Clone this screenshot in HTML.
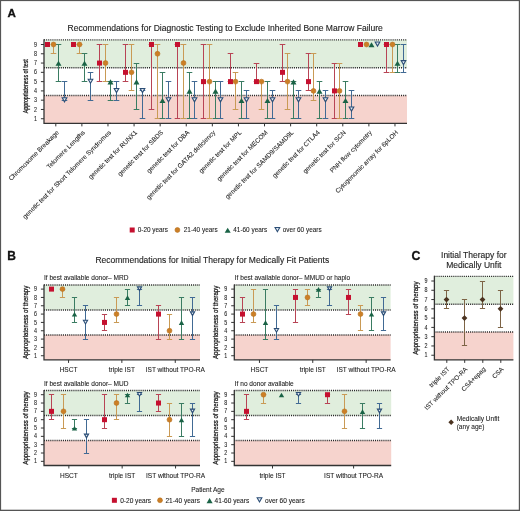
<!DOCTYPE html>
<html><head><meta charset="utf-8"><style>
html,body{margin:0;padding:0;background:#fff;}
body{width:520px;height:511px;overflow:hidden;}
svg{display:block;will-change:transform;opacity:0.999;}
</style></head><body>
<svg width="520" height="511" viewBox="0 0 520 511" font-family='"Liberation Sans", sans-serif'>
<rect x="0" y="0" width="520" height="511" fill="#fff"/>
<rect x="44" y="39.86" width="363" height="27.84" fill="#e0eedd"/>
<rect x="44" y="95.54" width="363" height="27.84" fill="#f6d3cd"/>
<line x1="44" y1="39.86" x2="407" y2="39.86" stroke="#262626" stroke-width="1.45" stroke-dasharray="1.05 1.05"/>
<line x1="44" y1="67.70" x2="407" y2="67.70" stroke="#262626" stroke-width="1.45" stroke-dasharray="1.05 1.05"/>
<line x1="44" y1="95.54" x2="407" y2="95.54" stroke="#262626" stroke-width="1.45" stroke-dasharray="1.05 1.05"/>
<g stroke="#c99a55" stroke-width="1" fill="none"><line x1="53.50" y1="44.50" x2="53.50" y2="53.50"/><line x1="50.70" y1="44.50" x2="56.30" y2="44.50"/><line x1="50.70" y1="53.50" x2="56.30" y2="53.50"/></g>
<g stroke="#3a7c62" stroke-width="1" fill="none"><line x1="58.50" y1="44.50" x2="58.50" y2="81.50"/><line x1="55.70" y1="44.50" x2="61.30" y2="44.50"/><line x1="55.70" y1="81.50" x2="61.30" y2="81.50"/></g>
<g stroke="#416a94" stroke-width="1" fill="none"><line x1="64.50" y1="81.50" x2="64.50" y2="100.50"/><line x1="61.70" y1="81.50" x2="67.30" y2="81.50"/><line x1="61.70" y1="100.50" x2="67.30" y2="100.50"/></g>
<g stroke="#c99a55" stroke-width="1" fill="none"><line x1="79.50" y1="44.50" x2="79.50" y2="53.50"/><line x1="76.70" y1="44.50" x2="82.30" y2="44.50"/><line x1="76.70" y1="53.50" x2="82.30" y2="53.50"/></g>
<g stroke="#3a7c62" stroke-width="1" fill="none"><line x1="84.50" y1="53.50" x2="84.50" y2="81.50"/><line x1="81.70" y1="53.50" x2="87.30" y2="53.50"/><line x1="81.70" y1="81.50" x2="87.30" y2="81.50"/></g>
<g stroke="#416a94" stroke-width="1" fill="none"><line x1="90.50" y1="72.50" x2="90.50" y2="100.50"/><line x1="87.70" y1="72.50" x2="93.30" y2="72.50"/><line x1="87.70" y1="100.50" x2="93.30" y2="100.50"/></g>
<g stroke="#b84455" stroke-width="1" fill="none"><line x1="99.50" y1="44.50" x2="99.50" y2="81.50"/><line x1="96.70" y1="44.50" x2="102.30" y2="44.50"/><line x1="96.70" y1="81.50" x2="102.30" y2="81.50"/></g>
<g stroke="#c99a55" stroke-width="1" fill="none"><line x1="105.50" y1="44.50" x2="105.50" y2="81.50"/><line x1="102.70" y1="44.50" x2="108.30" y2="44.50"/><line x1="102.70" y1="81.50" x2="108.30" y2="81.50"/></g>
<g stroke="#3a7c62" stroke-width="1" fill="none"><line x1="110.50" y1="81.50" x2="110.50" y2="100.50"/><line x1="107.70" y1="81.50" x2="113.30" y2="81.50"/><line x1="107.70" y1="100.50" x2="113.30" y2="100.50"/></g>
<g stroke="#416a94" stroke-width="1" fill="none"><line x1="116.50" y1="81.50" x2="116.50" y2="100.50"/><line x1="113.70" y1="81.50" x2="119.30" y2="81.50"/><line x1="113.70" y1="100.50" x2="119.30" y2="100.50"/></g>
<g stroke="#b84455" stroke-width="1" fill="none"><line x1="125.50" y1="44.50" x2="125.50" y2="81.50"/><line x1="122.70" y1="44.50" x2="128.30" y2="44.50"/><line x1="122.70" y1="81.50" x2="128.30" y2="81.50"/></g>
<g stroke="#c99a55" stroke-width="1" fill="none"><line x1="131.50" y1="44.50" x2="131.50" y2="90.50"/><line x1="128.70" y1="44.50" x2="134.30" y2="44.50"/><line x1="128.70" y1="90.50" x2="134.30" y2="90.50"/></g>
<g stroke="#3a7c62" stroke-width="1" fill="none"><line x1="136.50" y1="63.50" x2="136.50" y2="109.50"/><line x1="133.70" y1="63.50" x2="139.30" y2="63.50"/><line x1="133.70" y1="109.50" x2="139.30" y2="109.50"/></g>
<g stroke="#416a94" stroke-width="1" fill="none"><line x1="142.50" y1="90.50" x2="142.50" y2="118.50"/><line x1="139.70" y1="90.50" x2="145.30" y2="90.50"/><line x1="139.70" y1="118.50" x2="145.30" y2="118.50"/></g>
<g stroke="#b84455" stroke-width="1" fill="none"><line x1="151.50" y1="44.50" x2="151.50" y2="109.50"/><line x1="148.70" y1="44.50" x2="154.30" y2="44.50"/><line x1="148.70" y1="109.50" x2="154.30" y2="109.50"/></g>
<g stroke="#c99a55" stroke-width="1" fill="none"><line x1="157.50" y1="44.50" x2="157.50" y2="118.50"/><line x1="154.70" y1="44.50" x2="160.30" y2="44.50"/><line x1="154.70" y1="118.50" x2="160.30" y2="118.50"/></g>
<g stroke="#3a7c62" stroke-width="1" fill="none"><line x1="162.50" y1="72.50" x2="162.50" y2="118.50"/><line x1="159.70" y1="72.50" x2="165.30" y2="72.50"/><line x1="159.70" y1="118.50" x2="165.30" y2="118.50"/></g>
<g stroke="#416a94" stroke-width="1" fill="none"><line x1="168.50" y1="81.50" x2="168.50" y2="118.50"/><line x1="165.70" y1="81.50" x2="171.30" y2="81.50"/><line x1="165.70" y1="118.50" x2="171.30" y2="118.50"/></g>
<g stroke="#b84455" stroke-width="1" fill="none"><line x1="177.50" y1="44.50" x2="177.50" y2="118.50"/><line x1="174.70" y1="44.50" x2="180.30" y2="44.50"/><line x1="174.70" y1="118.50" x2="180.30" y2="118.50"/></g>
<g stroke="#c99a55" stroke-width="1" fill="none"><line x1="183.50" y1="44.50" x2="183.50" y2="118.50"/><line x1="180.70" y1="44.50" x2="186.30" y2="44.50"/><line x1="180.70" y1="118.50" x2="186.30" y2="118.50"/></g>
<g stroke="#3a7c62" stroke-width="1" fill="none"><line x1="189.50" y1="72.50" x2="189.50" y2="118.50"/><line x1="186.70" y1="72.50" x2="192.30" y2="72.50"/><line x1="186.70" y1="118.50" x2="192.30" y2="118.50"/></g>
<g stroke="#416a94" stroke-width="1" fill="none"><line x1="194.50" y1="81.50" x2="194.50" y2="118.50"/><line x1="191.70" y1="81.50" x2="197.30" y2="81.50"/><line x1="191.70" y1="118.50" x2="197.30" y2="118.50"/></g>
<g stroke="#b84455" stroke-width="1" fill="none"><line x1="203.50" y1="44.50" x2="203.50" y2="118.50"/><line x1="200.70" y1="44.50" x2="206.30" y2="44.50"/><line x1="200.70" y1="118.50" x2="206.30" y2="118.50"/></g>
<g stroke="#c99a55" stroke-width="1" fill="none"><line x1="209.50" y1="44.50" x2="209.50" y2="118.50"/><line x1="206.70" y1="44.50" x2="212.30" y2="44.50"/><line x1="206.70" y1="118.50" x2="212.30" y2="118.50"/></g>
<g stroke="#3a7c62" stroke-width="1" fill="none"><line x1="215.50" y1="81.50" x2="215.50" y2="118.50"/><line x1="212.70" y1="81.50" x2="218.30" y2="81.50"/><line x1="212.70" y1="118.50" x2="218.30" y2="118.50"/></g>
<g stroke="#416a94" stroke-width="1" fill="none"><line x1="220.50" y1="81.50" x2="220.50" y2="118.50"/><line x1="217.70" y1="81.50" x2="223.30" y2="81.50"/><line x1="217.70" y1="118.50" x2="223.30" y2="118.50"/></g>
<g stroke="#b84455" stroke-width="1" fill="none"><line x1="230.50" y1="53.50" x2="230.50" y2="81.50"/><line x1="227.70" y1="53.50" x2="233.30" y2="53.50"/><line x1="227.70" y1="81.50" x2="233.30" y2="81.50"/></g>
<g stroke="#c99a55" stroke-width="1" fill="none"><line x1="235.50" y1="72.50" x2="235.50" y2="109.50"/><line x1="232.70" y1="72.50" x2="238.30" y2="72.50"/><line x1="232.70" y1="109.50" x2="238.30" y2="109.50"/></g>
<g stroke="#3a7c62" stroke-width="1" fill="none"><line x1="241.50" y1="81.50" x2="241.50" y2="118.50"/><line x1="238.70" y1="81.50" x2="244.30" y2="81.50"/><line x1="238.70" y1="118.50" x2="244.30" y2="118.50"/></g>
<g stroke="#416a94" stroke-width="1" fill="none"><line x1="246.50" y1="90.50" x2="246.50" y2="118.50"/><line x1="243.70" y1="90.50" x2="249.30" y2="90.50"/><line x1="243.70" y1="118.50" x2="249.30" y2="118.50"/></g>
<g stroke="#b84455" stroke-width="1" fill="none"><line x1="256.50" y1="63.50" x2="256.50" y2="81.50"/><line x1="253.70" y1="63.50" x2="259.30" y2="63.50"/><line x1="253.70" y1="81.50" x2="259.30" y2="81.50"/></g>
<g stroke="#c99a55" stroke-width="1" fill="none"><line x1="261.50" y1="81.50" x2="261.50" y2="109.50"/><line x1="258.70" y1="81.50" x2="264.30" y2="81.50"/><line x1="258.70" y1="109.50" x2="264.30" y2="109.50"/></g>
<g stroke="#3a7c62" stroke-width="1" fill="none"><line x1="267.50" y1="81.50" x2="267.50" y2="118.50"/><line x1="264.70" y1="81.50" x2="270.30" y2="81.50"/><line x1="264.70" y1="118.50" x2="270.30" y2="118.50"/></g>
<g stroke="#416a94" stroke-width="1" fill="none"><line x1="272.50" y1="90.50" x2="272.50" y2="118.50"/><line x1="269.70" y1="90.50" x2="275.30" y2="90.50"/><line x1="269.70" y1="118.50" x2="275.30" y2="118.50"/></g>
<g stroke="#b84455" stroke-width="1" fill="none"><line x1="282.50" y1="44.50" x2="282.50" y2="81.50"/><line x1="279.70" y1="44.50" x2="285.30" y2="44.50"/><line x1="279.70" y1="81.50" x2="285.30" y2="81.50"/></g>
<g stroke="#c99a55" stroke-width="1" fill="none"><line x1="287.50" y1="53.50" x2="287.50" y2="109.50"/><line x1="284.70" y1="53.50" x2="290.30" y2="53.50"/><line x1="284.70" y1="109.50" x2="290.30" y2="109.50"/></g>
<g stroke="#3a7c62" stroke-width="1" fill="none"><line x1="293.50" y1="81.50" x2="293.50" y2="118.50"/><line x1="290.70" y1="81.50" x2="296.30" y2="81.50"/><line x1="290.70" y1="118.50" x2="296.30" y2="118.50"/></g>
<g stroke="#416a94" stroke-width="1" fill="none"><line x1="298.50" y1="90.50" x2="298.50" y2="118.50"/><line x1="295.70" y1="90.50" x2="301.30" y2="90.50"/><line x1="295.70" y1="118.50" x2="301.30" y2="118.50"/></g>
<g stroke="#b84455" stroke-width="1" fill="none"><line x1="308.50" y1="53.50" x2="308.50" y2="90.50"/><line x1="305.70" y1="53.50" x2="311.30" y2="53.50"/><line x1="305.70" y1="90.50" x2="311.30" y2="90.50"/></g>
<g stroke="#c99a55" stroke-width="1" fill="none"><line x1="313.50" y1="53.50" x2="313.50" y2="100.50"/><line x1="310.70" y1="53.50" x2="316.30" y2="53.50"/><line x1="310.70" y1="100.50" x2="316.30" y2="100.50"/></g>
<g stroke="#3a7c62" stroke-width="1" fill="none"><line x1="319.50" y1="81.50" x2="319.50" y2="118.50"/><line x1="316.70" y1="81.50" x2="322.30" y2="81.50"/><line x1="316.70" y1="118.50" x2="322.30" y2="118.50"/></g>
<g stroke="#416a94" stroke-width="1" fill="none"><line x1="325.50" y1="90.50" x2="325.50" y2="118.50"/><line x1="322.70" y1="90.50" x2="328.30" y2="90.50"/><line x1="322.70" y1="118.50" x2="328.30" y2="118.50"/></g>
<g stroke="#b84455" stroke-width="1" fill="none"><line x1="334.50" y1="63.50" x2="334.50" y2="118.50"/><line x1="331.70" y1="63.50" x2="337.30" y2="63.50"/><line x1="331.70" y1="118.50" x2="337.30" y2="118.50"/></g>
<g stroke="#c99a55" stroke-width="1" fill="none"><line x1="339.50" y1="63.50" x2="339.50" y2="118.50"/><line x1="336.70" y1="63.50" x2="342.30" y2="63.50"/><line x1="336.70" y1="118.50" x2="342.30" y2="118.50"/></g>
<g stroke="#3a7c62" stroke-width="1" fill="none"><line x1="345.50" y1="81.50" x2="345.50" y2="118.50"/><line x1="342.70" y1="81.50" x2="348.30" y2="81.50"/><line x1="342.70" y1="118.50" x2="348.30" y2="118.50"/></g>
<g stroke="#416a94" stroke-width="1" fill="none"><line x1="351.50" y1="90.50" x2="351.50" y2="118.50"/><line x1="348.70" y1="90.50" x2="354.30" y2="90.50"/><line x1="348.70" y1="118.50" x2="354.30" y2="118.50"/></g>
<g stroke="#b84455" stroke-width="1" fill="none"><line x1="386.50" y1="44.50" x2="386.50" y2="72.50"/><line x1="383.70" y1="44.50" x2="389.30" y2="44.50"/><line x1="383.70" y1="72.50" x2="389.30" y2="72.50"/></g>
<g stroke="#c99a55" stroke-width="1" fill="none"><line x1="392.50" y1="44.50" x2="392.50" y2="72.50"/><line x1="389.70" y1="44.50" x2="395.30" y2="44.50"/><line x1="389.70" y1="72.50" x2="395.30" y2="72.50"/></g>
<g stroke="#3a7c62" stroke-width="1" fill="none"><line x1="397.50" y1="44.50" x2="397.50" y2="72.50"/><line x1="394.70" y1="44.50" x2="400.30" y2="44.50"/><line x1="394.70" y1="72.50" x2="400.30" y2="72.50"/></g>
<g stroke="#416a94" stroke-width="1" fill="none"><line x1="403.50" y1="44.50" x2="403.50" y2="72.50"/><line x1="400.70" y1="44.50" x2="406.30" y2="44.50"/><line x1="400.70" y1="72.50" x2="406.30" y2="72.50"/></g>
<rect x="45.00" y="42.00" width="5.00" height="5.00" fill="#c5102f"/>
<circle cx="53.50" cy="44.50" r="2.45" fill="#cc7f26" stroke="#b56e1c" stroke-width="0.6"/>
<path d="M55.53,65.84 L61.47,65.84 L58.50,60.78Z" fill="#1a6346"/>
<path d="M62.19,97.74 L66.81,97.74 L64.50,101.81Z" fill="#e2eaf3" stroke="#2b4d75" stroke-width="1.1" stroke-linejoin="miter"/>
<rect x="71.00" y="42.00" width="5.00" height="5.00" fill="#c5102f"/>
<circle cx="79.50" cy="44.50" r="2.45" fill="#cc7f26" stroke="#b56e1c" stroke-width="0.6"/>
<path d="M81.53,65.84 L87.47,65.84 L84.50,60.78Z" fill="#1a6346"/>
<path d="M88.19,79.18 L92.81,79.18 L90.50,83.25Z" fill="#e2eaf3" stroke="#2b4d75" stroke-width="1.1" stroke-linejoin="miter"/>
<rect x="97.00" y="60.56" width="5.00" height="5.00" fill="#c5102f"/>
<circle cx="105.50" cy="63.06" r="2.45" fill="#cc7f26" stroke="#b56e1c" stroke-width="0.6"/>
<path d="M107.53,84.40 L113.47,84.40 L110.50,79.34Z" fill="#1a6346"/>
<path d="M114.19,88.46 L118.81,88.46 L116.50,92.53Z" fill="#e2eaf3" stroke="#2b4d75" stroke-width="1.1" stroke-linejoin="miter"/>
<rect x="123.00" y="69.84" width="5.00" height="5.00" fill="#c5102f"/>
<circle cx="131.50" cy="72.34" r="2.45" fill="#cc7f26" stroke="#b56e1c" stroke-width="0.6"/>
<path d="M133.53,84.40 L139.47,84.40 L136.50,79.34Z" fill="#1a6346"/>
<path d="M140.19,88.46 L144.81,88.46 L142.50,92.53Z" fill="#e2eaf3" stroke="#2b4d75" stroke-width="1.1" stroke-linejoin="miter"/>
<rect x="149.00" y="42.00" width="5.00" height="5.00" fill="#c5102f"/>
<circle cx="157.50" cy="53.78" r="2.45" fill="#cc7f26" stroke="#b56e1c" stroke-width="0.6"/>
<path d="M159.53,102.96 L165.47,102.96 L162.50,97.90Z" fill="#1a6346"/>
<path d="M166.19,97.74 L170.81,97.74 L168.50,101.81Z" fill="#e2eaf3" stroke="#2b4d75" stroke-width="1.1" stroke-linejoin="miter"/>
<rect x="175.00" y="42.00" width="5.00" height="5.00" fill="#c5102f"/>
<circle cx="183.50" cy="63.06" r="2.45" fill="#cc7f26" stroke="#b56e1c" stroke-width="0.6"/>
<path d="M186.53,93.68 L192.47,93.68 L189.50,88.62Z" fill="#1a6346"/>
<path d="M192.19,97.74 L196.81,97.74 L194.50,101.81Z" fill="#e2eaf3" stroke="#2b4d75" stroke-width="1.1" stroke-linejoin="miter"/>
<rect x="201.00" y="79.12" width="5.00" height="5.00" fill="#c5102f"/>
<circle cx="209.50" cy="81.62" r="2.45" fill="#cc7f26" stroke="#b56e1c" stroke-width="0.6"/>
<path d="M212.53,93.68 L218.47,93.68 L215.50,88.62Z" fill="#1a6346"/>
<path d="M218.19,97.74 L222.81,97.74 L220.50,101.81Z" fill="#e2eaf3" stroke="#2b4d75" stroke-width="1.1" stroke-linejoin="miter"/>
<rect x="228.00" y="79.12" width="5.00" height="5.00" fill="#c5102f"/>
<circle cx="235.50" cy="81.62" r="2.45" fill="#cc7f26" stroke="#b56e1c" stroke-width="0.6"/>
<path d="M238.53,102.96 L244.47,102.96 L241.50,97.90Z" fill="#1a6346"/>
<path d="M244.19,97.74 L248.81,97.74 L246.50,101.81Z" fill="#e2eaf3" stroke="#2b4d75" stroke-width="1.1" stroke-linejoin="miter"/>
<rect x="254.00" y="79.12" width="5.00" height="5.00" fill="#c5102f"/>
<circle cx="261.50" cy="81.62" r="2.45" fill="#cc7f26" stroke="#b56e1c" stroke-width="0.6"/>
<path d="M264.53,102.96 L270.47,102.96 L267.50,97.90Z" fill="#1a6346"/>
<path d="M270.19,97.74 L274.81,97.74 L272.50,101.81Z" fill="#e2eaf3" stroke="#2b4d75" stroke-width="1.1" stroke-linejoin="miter"/>
<rect x="280.00" y="69.84" width="5.00" height="5.00" fill="#c5102f"/>
<circle cx="287.50" cy="81.62" r="2.45" fill="#cc7f26" stroke="#b56e1c" stroke-width="0.6"/>
<path d="M290.53,84.40 L296.47,84.40 L293.50,79.34Z" fill="#1a6346"/>
<path d="M296.19,97.74 L300.81,97.74 L298.50,101.81Z" fill="#e2eaf3" stroke="#2b4d75" stroke-width="1.1" stroke-linejoin="miter"/>
<rect x="306.00" y="79.12" width="5.00" height="5.00" fill="#c5102f"/>
<circle cx="313.50" cy="90.90" r="2.45" fill="#cc7f26" stroke="#b56e1c" stroke-width="0.6"/>
<path d="M316.53,93.68 L322.47,93.68 L319.50,88.62Z" fill="#1a6346"/>
<path d="M323.19,97.74 L327.81,97.74 L325.50,101.81Z" fill="#e2eaf3" stroke="#2b4d75" stroke-width="1.1" stroke-linejoin="miter"/>
<rect x="332.00" y="88.40" width="5.00" height="5.00" fill="#c5102f"/>
<circle cx="339.50" cy="90.90" r="2.45" fill="#cc7f26" stroke="#b56e1c" stroke-width="0.6"/>
<path d="M342.53,102.96 L348.47,102.96 L345.50,97.90Z" fill="#1a6346"/>
<path d="M349.19,107.02 L353.81,107.02 L351.50,111.09Z" fill="#e2eaf3" stroke="#2b4d75" stroke-width="1.1" stroke-linejoin="miter"/>
<rect x="358.00" y="42.00" width="5.00" height="5.00" fill="#c5102f"/>
<circle cx="366.50" cy="44.50" r="2.45" fill="#cc7f26" stroke="#b56e1c" stroke-width="0.6"/>
<path d="M368.53,47.28 L374.47,47.28 L371.50,42.22Z" fill="#1a6346"/>
<path d="M375.19,42.06 L379.81,42.06 L377.50,46.13Z" fill="#e2eaf3" stroke="#2b4d75" stroke-width="1.1" stroke-linejoin="miter"/>
<rect x="384.00" y="42.00" width="5.00" height="5.00" fill="#c5102f"/>
<circle cx="392.50" cy="44.50" r="2.45" fill="#cc7f26" stroke="#b56e1c" stroke-width="0.6"/>
<path d="M394.53,65.84 L400.47,65.84 L397.50,60.78Z" fill="#1a6346"/>
<path d="M401.19,60.62 L405.81,60.62 L403.50,64.69Z" fill="#e2eaf3" stroke="#2b4d75" stroke-width="1.1" stroke-linejoin="miter"/>
<path d="M44,39.36 L44,123.38 L407,123.38" stroke="#333333" stroke-width="1.3" fill="none"/>
<line x1="40.9" y1="118.74" x2="44" y2="118.74" stroke="#333333" stroke-width="1"/>
<text x="37.00" y="120.84" font-size="6.6" text-anchor="end" font-weight="normal" fill="#222222" textLength="3.0" lengthAdjust="spacingAndGlyphs" stroke="#222222" stroke-width="0.08">1</text>
<line x1="40.9" y1="109.46" x2="44" y2="109.46" stroke="#333333" stroke-width="1"/>
<text x="37.00" y="111.56" font-size="6.6" text-anchor="end" font-weight="normal" fill="#222222" textLength="3.0" lengthAdjust="spacingAndGlyphs" stroke="#222222" stroke-width="0.08">2</text>
<line x1="40.9" y1="100.18" x2="44" y2="100.18" stroke="#333333" stroke-width="1"/>
<text x="37.00" y="102.28" font-size="6.6" text-anchor="end" font-weight="normal" fill="#222222" textLength="3.0" lengthAdjust="spacingAndGlyphs" stroke="#222222" stroke-width="0.08">3</text>
<line x1="40.9" y1="90.90" x2="44" y2="90.90" stroke="#333333" stroke-width="1"/>
<text x="37.00" y="93.00" font-size="6.6" text-anchor="end" font-weight="normal" fill="#222222" textLength="3.0" lengthAdjust="spacingAndGlyphs" stroke="#222222" stroke-width="0.08">4</text>
<line x1="40.9" y1="81.62" x2="44" y2="81.62" stroke="#333333" stroke-width="1"/>
<text x="37.00" y="83.72" font-size="6.6" text-anchor="end" font-weight="normal" fill="#222222" textLength="3.0" lengthAdjust="spacingAndGlyphs" stroke="#222222" stroke-width="0.08">5</text>
<line x1="40.9" y1="72.34" x2="44" y2="72.34" stroke="#333333" stroke-width="1"/>
<text x="37.00" y="74.44" font-size="6.6" text-anchor="end" font-weight="normal" fill="#222222" textLength="3.0" lengthAdjust="spacingAndGlyphs" stroke="#222222" stroke-width="0.08">6</text>
<line x1="40.9" y1="63.06" x2="44" y2="63.06" stroke="#333333" stroke-width="1"/>
<text x="37.00" y="65.16" font-size="6.6" text-anchor="end" font-weight="normal" fill="#222222" textLength="3.0" lengthAdjust="spacingAndGlyphs" stroke="#222222" stroke-width="0.08">7</text>
<line x1="40.9" y1="53.78" x2="44" y2="53.78" stroke="#333333" stroke-width="1"/>
<text x="37.00" y="55.88" font-size="6.6" text-anchor="end" font-weight="normal" fill="#222222" textLength="3.0" lengthAdjust="spacingAndGlyphs" stroke="#222222" stroke-width="0.08">8</text>
<line x1="40.9" y1="44.50" x2="44" y2="44.50" stroke="#333333" stroke-width="1"/>
<text x="37.00" y="46.60" font-size="6.6" text-anchor="end" font-weight="normal" fill="#222222" textLength="3.0" lengthAdjust="spacingAndGlyphs" stroke="#222222" stroke-width="0.08">9</text>
<line x1="55.80" y1="123.38" x2="55.80" y2="126.38" stroke="#333333" stroke-width="1"/>
<line x1="81.89" y1="123.38" x2="81.89" y2="126.38" stroke="#333333" stroke-width="1"/>
<line x1="107.98" y1="123.38" x2="107.98" y2="126.38" stroke="#333333" stroke-width="1"/>
<line x1="134.07" y1="123.38" x2="134.07" y2="126.38" stroke="#333333" stroke-width="1"/>
<line x1="160.16" y1="123.38" x2="160.16" y2="126.38" stroke="#333333" stroke-width="1"/>
<line x1="186.25" y1="123.38" x2="186.25" y2="126.38" stroke="#333333" stroke-width="1"/>
<line x1="212.34" y1="123.38" x2="212.34" y2="126.38" stroke="#333333" stroke-width="1"/>
<line x1="238.43" y1="123.38" x2="238.43" y2="126.38" stroke="#333333" stroke-width="1"/>
<line x1="264.52" y1="123.38" x2="264.52" y2="126.38" stroke="#333333" stroke-width="1"/>
<line x1="290.61" y1="123.38" x2="290.61" y2="126.38" stroke="#333333" stroke-width="1"/>
<line x1="316.70" y1="123.38" x2="316.70" y2="126.38" stroke="#333333" stroke-width="1"/>
<line x1="342.79" y1="123.38" x2="342.79" y2="126.38" stroke="#333333" stroke-width="1"/>
<line x1="368.88" y1="123.38" x2="368.88" y2="126.38" stroke="#333333" stroke-width="1"/>
<line x1="394.97" y1="123.38" x2="394.97" y2="126.38" stroke="#333333" stroke-width="1"/>
<text x="27.60" y="86.20" font-size="7.4" text-anchor="middle" font-weight="normal" fill="#222222" textLength="54" lengthAdjust="spacingAndGlyphs" transform="rotate(-90 27.60 86.20)" stroke="#222" stroke-width="0.28">Appropriateness of test</text>
<text x="59.30" y="133.00" font-size="6.45" text-anchor="end" font-weight="normal" fill="#222222" transform="rotate(-45 59.30 133.00)" stroke="#222222" stroke-width="0.08">Chromosome Breakage</text>
<text x="85.39" y="133.00" font-size="6.45" text-anchor="end" font-weight="normal" fill="#222222" transform="rotate(-45 85.39 133.00)" stroke="#222222" stroke-width="0.08">Telomere Lengths</text>
<text x="111.48" y="133.00" font-size="6.45" text-anchor="end" font-weight="normal" fill="#222222" transform="rotate(-45 111.48 133.00)" stroke="#222222" stroke-width="0.08">genetic test for Short Telomere Syndromes</text>
<text x="137.57" y="133.00" font-size="6.45" text-anchor="end" font-weight="normal" fill="#222222" transform="rotate(-45 137.57 133.00)" stroke="#222222" stroke-width="0.08">genetic test for RUNX1</text>
<text x="163.66" y="133.00" font-size="6.45" text-anchor="end" font-weight="normal" fill="#222222" transform="rotate(-45 163.66 133.00)" stroke="#222222" stroke-width="0.08">genetic test for SBDS</text>
<text x="189.75" y="133.00" font-size="6.45" text-anchor="end" font-weight="normal" fill="#222222" transform="rotate(-45 189.75 133.00)" stroke="#222222" stroke-width="0.08">genetic test for DBA</text>
<text x="215.84" y="133.00" font-size="6.45" text-anchor="end" font-weight="normal" fill="#222222" transform="rotate(-45 215.84 133.00)" stroke="#222222" stroke-width="0.08">genetic test for GATA2 deficiency</text>
<text x="241.93" y="133.00" font-size="6.45" text-anchor="end" font-weight="normal" fill="#222222" transform="rotate(-45 241.93 133.00)" stroke="#222222" stroke-width="0.08">genetic test for MPL</text>
<text x="268.02" y="133.00" font-size="6.45" text-anchor="end" font-weight="normal" fill="#222222" transform="rotate(-45 268.02 133.00)" stroke="#222222" stroke-width="0.08">genetic test for MECOM</text>
<text x="294.11" y="133.00" font-size="6.45" text-anchor="end" font-weight="normal" fill="#222222" transform="rotate(-45 294.11 133.00)" stroke="#222222" stroke-width="0.08">genetic test for SAMD9/SAMD9L</text>
<text x="320.20" y="133.00" font-size="6.45" text-anchor="end" font-weight="normal" fill="#222222" transform="rotate(-45 320.20 133.00)" stroke="#222222" stroke-width="0.08">genetic test for CTLA4</text>
<text x="346.29" y="133.00" font-size="6.45" text-anchor="end" font-weight="normal" fill="#222222" transform="rotate(-45 346.29 133.00)" stroke="#222222" stroke-width="0.08">genetic test for SCN</text>
<text x="372.38" y="133.00" font-size="6.45" text-anchor="end" font-weight="normal" fill="#222222" transform="rotate(-45 372.38 133.00)" stroke="#222222" stroke-width="0.08">PNH flow cytometry</text>
<text x="398.47" y="133.00" font-size="6.45" text-anchor="end" font-weight="normal" fill="#222222" transform="rotate(-45 398.47 133.00)" stroke="#222222" stroke-width="0.08">Cytogenomic array for 6pLOH</text>
<text x="225.20" y="31.30" font-size="8.57" text-anchor="middle" font-weight="normal" fill="#222222" stroke="#222222" stroke-width="0.12">Recommendations for Diagnostic Testing to Exclude Inherited Bone Marrow Failure</text>
<text x="7.40" y="17.30" font-size="11.6" text-anchor="start" font-weight="bold" fill="#111" stroke="#111" stroke-width="0.3">A</text>
<rect x="129.70" y="227.50" width="5.00" height="5.00" fill="#c5102f"/>
<text x="137.70" y="232.30" font-size="6.42" text-anchor="start" font-weight="normal" fill="#222222" stroke="#222222" stroke-width="0.08">0-20 years</text>
<circle cx="177.40" cy="230.00" r="2.45" fill="#cc7f26" stroke="#b56e1c" stroke-width="0.6"/>
<text x="183.80" y="232.30" font-size="6.42" text-anchor="start" font-weight="normal" fill="#222222" stroke="#222222" stroke-width="0.08">21-40 years</text>
<path d="M224.68,232.83 L230.72,232.83 L227.70,227.68Z" fill="#1a6346"/>
<text x="233.30" y="232.30" font-size="6.42" text-anchor="start" font-weight="normal" fill="#222222" stroke="#222222" stroke-width="0.08">41-60 years</text>
<path d="M275.05,227.51 L279.75,227.51 L277.40,231.66Z" fill="#e2eaf3" stroke="#2b4d75" stroke-width="1.1" stroke-linejoin="miter"/>
<text x="282.80" y="232.30" font-size="6.42" text-anchor="start" font-weight="normal" fill="#222222" stroke="#222222" stroke-width="0.08">over 60 years</text>
<text x="7.30" y="259.80" font-size="12" text-anchor="start" font-weight="bold" fill="#111" stroke="#111" stroke-width="0.3">B</text>
<text x="212.30" y="262.70" font-size="8.5" text-anchor="middle" font-weight="normal" fill="#222222" stroke="#222222" stroke-width="0.12">Recommendations for Initial Therapy for Medically Fit Patients</text>
<rect x="44" y="284.94" width="156" height="24.99" fill="#e0eedd"/>
<rect x="44" y="334.92" width="156" height="24.99" fill="#f6d3cd"/>
<line x1="44" y1="284.94" x2="200" y2="284.94" stroke="#262626" stroke-width="1.45" stroke-dasharray="1.05 1.05"/>
<line x1="44" y1="309.93" x2="200" y2="309.93" stroke="#262626" stroke-width="1.45" stroke-dasharray="1.05 1.05"/>
<line x1="44" y1="334.92" x2="200" y2="334.92" stroke="#262626" stroke-width="1.45" stroke-dasharray="1.05 1.05"/>
<g stroke="#c99a55" stroke-width="1" fill="none"><line x1="62.50" y1="289.50" x2="62.50" y2="297.50"/><line x1="59.90" y1="289.50" x2="65.10" y2="289.50"/><line x1="59.90" y1="297.50" x2="65.10" y2="297.50"/></g>
<g stroke="#3a7c62" stroke-width="1" fill="none"><line x1="74.50" y1="297.50" x2="74.50" y2="322.50"/><line x1="71.90" y1="297.50" x2="77.10" y2="297.50"/><line x1="71.90" y1="322.50" x2="77.10" y2="322.50"/></g>
<g stroke="#416a94" stroke-width="1" fill="none"><line x1="85.50" y1="305.50" x2="85.50" y2="339.50"/><line x1="82.90" y1="305.50" x2="88.10" y2="305.50"/><line x1="82.90" y1="339.50" x2="88.10" y2="339.50"/></g>
<g stroke="#b84455" stroke-width="1" fill="none"><line x1="104.50" y1="314.50" x2="104.50" y2="330.50"/><line x1="101.90" y1="314.50" x2="107.10" y2="314.50"/><line x1="101.90" y1="330.50" x2="107.10" y2="330.50"/></g>
<g stroke="#c99a55" stroke-width="1" fill="none"><line x1="116.50" y1="297.50" x2="116.50" y2="322.50"/><line x1="113.90" y1="297.50" x2="119.10" y2="297.50"/><line x1="113.90" y1="322.50" x2="119.10" y2="322.50"/></g>
<g stroke="#3a7c62" stroke-width="1" fill="none"><line x1="127.50" y1="289.50" x2="127.50" y2="305.50"/><line x1="124.90" y1="289.50" x2="130.10" y2="289.50"/><line x1="124.90" y1="305.50" x2="130.10" y2="305.50"/></g>
<g stroke="#416a94" stroke-width="1" fill="none"><line x1="139.50" y1="289.50" x2="139.50" y2="305.50"/><line x1="136.90" y1="289.50" x2="142.10" y2="289.50"/><line x1="136.90" y1="305.50" x2="142.10" y2="305.50"/></g>
<g stroke="#b84455" stroke-width="1" fill="none"><line x1="158.50" y1="305.50" x2="158.50" y2="339.50"/><line x1="155.90" y1="305.50" x2="161.10" y2="305.50"/><line x1="155.90" y1="339.50" x2="161.10" y2="339.50"/></g>
<g stroke="#c99a55" stroke-width="1" fill="none"><line x1="169.50" y1="314.50" x2="169.50" y2="339.50"/><line x1="166.90" y1="314.50" x2="172.10" y2="314.50"/><line x1="166.90" y1="339.50" x2="172.10" y2="339.50"/></g>
<g stroke="#3a7c62" stroke-width="1" fill="none"><line x1="181.50" y1="297.50" x2="181.50" y2="339.50"/><line x1="178.90" y1="297.50" x2="184.10" y2="297.50"/><line x1="178.90" y1="339.50" x2="184.10" y2="339.50"/></g>
<g stroke="#416a94" stroke-width="1" fill="none"><line x1="192.50" y1="297.50" x2="192.50" y2="339.50"/><line x1="189.90" y1="297.50" x2="195.10" y2="297.50"/><line x1="189.90" y1="339.50" x2="195.10" y2="339.50"/></g>
<rect x="49.00" y="286.60" width="5.00" height="5.00" fill="#c5102f"/>
<circle cx="62.50" cy="289.10" r="2.45" fill="#cc7f26" stroke="#b56e1c" stroke-width="0.6"/>
<path d="M71.80,316.62 L77.20,316.62 L74.50,312.02Z" fill="#1a6346"/>
<path d="M83.40,320.20 L87.60,320.20 L85.50,323.90Z" fill="#e2eaf3" stroke="#2b4d75" stroke-width="1.1" stroke-linejoin="miter"/>
<rect x="102.00" y="319.92" width="5.00" height="5.00" fill="#c5102f"/>
<circle cx="116.50" cy="314.09" r="2.45" fill="#cc7f26" stroke="#b56e1c" stroke-width="0.6"/>
<path d="M124.80,299.96 L130.20,299.96 L127.50,295.36Z" fill="#1a6346"/>
<path d="M137.40,286.88 L141.60,286.88 L139.50,290.58Z" fill="#e2eaf3" stroke="#2b4d75" stroke-width="1.1" stroke-linejoin="miter"/>
<rect x="156.00" y="311.59" width="5.00" height="5.00" fill="#c5102f"/>
<circle cx="169.50" cy="330.75" r="2.45" fill="#cc7f26" stroke="#b56e1c" stroke-width="0.6"/>
<path d="M178.80,324.95 L184.20,324.95 L181.50,320.35Z" fill="#1a6346"/>
<path d="M190.40,311.87 L194.60,311.87 L192.50,315.57Z" fill="#e2eaf3" stroke="#2b4d75" stroke-width="1.1" stroke-linejoin="miter"/>
<path d="M44,284.44 L44,359.91 L200,359.91" stroke="#333333" stroke-width="1.3" fill="none"/>
<line x1="40.9" y1="355.74" x2="44" y2="355.74" stroke="#333333" stroke-width="1"/>
<text x="37.00" y="357.84" font-size="6.6" text-anchor="end" font-weight="normal" fill="#222222" textLength="3.0" lengthAdjust="spacingAndGlyphs" stroke="#222222" stroke-width="0.08">1</text>
<line x1="40.9" y1="347.41" x2="44" y2="347.41" stroke="#333333" stroke-width="1"/>
<text x="37.00" y="349.51" font-size="6.6" text-anchor="end" font-weight="normal" fill="#222222" textLength="3.0" lengthAdjust="spacingAndGlyphs" stroke="#222222" stroke-width="0.08">2</text>
<line x1="40.9" y1="339.08" x2="44" y2="339.08" stroke="#333333" stroke-width="1"/>
<text x="37.00" y="341.18" font-size="6.6" text-anchor="end" font-weight="normal" fill="#222222" textLength="3.0" lengthAdjust="spacingAndGlyphs" stroke="#222222" stroke-width="0.08">3</text>
<line x1="40.9" y1="330.75" x2="44" y2="330.75" stroke="#333333" stroke-width="1"/>
<text x="37.00" y="332.85" font-size="6.6" text-anchor="end" font-weight="normal" fill="#222222" textLength="3.0" lengthAdjust="spacingAndGlyphs" stroke="#222222" stroke-width="0.08">4</text>
<line x1="40.9" y1="322.42" x2="44" y2="322.42" stroke="#333333" stroke-width="1"/>
<text x="37.00" y="324.52" font-size="6.6" text-anchor="end" font-weight="normal" fill="#222222" textLength="3.0" lengthAdjust="spacingAndGlyphs" stroke="#222222" stroke-width="0.08">5</text>
<line x1="40.9" y1="314.09" x2="44" y2="314.09" stroke="#333333" stroke-width="1"/>
<text x="37.00" y="316.19" font-size="6.6" text-anchor="end" font-weight="normal" fill="#222222" textLength="3.0" lengthAdjust="spacingAndGlyphs" stroke="#222222" stroke-width="0.08">6</text>
<line x1="40.9" y1="305.76" x2="44" y2="305.76" stroke="#333333" stroke-width="1"/>
<text x="37.00" y="307.86" font-size="6.6" text-anchor="end" font-weight="normal" fill="#222222" textLength="3.0" lengthAdjust="spacingAndGlyphs" stroke="#222222" stroke-width="0.08">7</text>
<line x1="40.9" y1="297.43" x2="44" y2="297.43" stroke="#333333" stroke-width="1"/>
<text x="37.00" y="299.53" font-size="6.6" text-anchor="end" font-weight="normal" fill="#222222" textLength="3.0" lengthAdjust="spacingAndGlyphs" stroke="#222222" stroke-width="0.08">8</text>
<line x1="40.9" y1="289.10" x2="44" y2="289.10" stroke="#333333" stroke-width="1"/>
<text x="37.00" y="291.20" font-size="6.6" text-anchor="end" font-weight="normal" fill="#222222" textLength="3.0" lengthAdjust="spacingAndGlyphs" stroke="#222222" stroke-width="0.08">9</text>
<line x1="68.55" y1="359.91" x2="68.55" y2="362.91" stroke="#333333" stroke-width="1"/>
<line x1="121.85" y1="359.91" x2="121.85" y2="362.91" stroke="#333333" stroke-width="1"/>
<line x1="175.25" y1="359.91" x2="175.25" y2="362.91" stroke="#333333" stroke-width="1"/>
<text x="28.30" y="322.42" font-size="7.4" text-anchor="middle" font-weight="normal" fill="#222222" textLength="73.3" lengthAdjust="spacingAndGlyphs" transform="rotate(-90 28.30 322.42)" stroke="#222" stroke-width="0.28">Appropriateness of therapy</text>
<rect x="234.3" y="284.94" width="156.3" height="24.99" fill="#e0eedd"/>
<rect x="234.3" y="334.92" width="156.3" height="24.99" fill="#f6d3cd"/>
<line x1="234.3" y1="284.94" x2="390.6" y2="284.94" stroke="#262626" stroke-width="1.45" stroke-dasharray="1.05 1.05"/>
<line x1="234.3" y1="309.93" x2="390.6" y2="309.93" stroke="#262626" stroke-width="1.45" stroke-dasharray="1.05 1.05"/>
<line x1="234.3" y1="334.92" x2="390.6" y2="334.92" stroke="#262626" stroke-width="1.45" stroke-dasharray="1.05 1.05"/>
<g stroke="#b84455" stroke-width="1" fill="none"><line x1="242.50" y1="297.50" x2="242.50" y2="322.50"/><line x1="239.90" y1="297.50" x2="245.10" y2="297.50"/><line x1="239.90" y1="322.50" x2="245.10" y2="322.50"/></g>
<g stroke="#c99a55" stroke-width="1" fill="none"><line x1="253.50" y1="289.50" x2="253.50" y2="322.50"/><line x1="250.90" y1="289.50" x2="256.10" y2="289.50"/><line x1="250.90" y1="322.50" x2="256.10" y2="322.50"/></g>
<g stroke="#3a7c62" stroke-width="1" fill="none"><line x1="265.50" y1="289.50" x2="265.50" y2="339.50"/><line x1="262.90" y1="289.50" x2="268.10" y2="289.50"/><line x1="262.90" y1="339.50" x2="268.10" y2="339.50"/></g>
<g stroke="#416a94" stroke-width="1" fill="none"><line x1="276.50" y1="305.50" x2="276.50" y2="339.50"/><line x1="273.90" y1="305.50" x2="279.10" y2="305.50"/><line x1="273.90" y1="339.50" x2="279.10" y2="339.50"/></g>
<g stroke="#b84455" stroke-width="1" fill="none"><line x1="295.50" y1="289.50" x2="295.50" y2="322.50"/><line x1="292.90" y1="289.50" x2="298.10" y2="289.50"/><line x1="292.90" y1="322.50" x2="298.10" y2="322.50"/></g>
<g stroke="#c99a55" stroke-width="1" fill="none"><line x1="307.50" y1="289.50" x2="307.50" y2="305.50"/><line x1="304.90" y1="289.50" x2="310.10" y2="289.50"/><line x1="304.90" y1="305.50" x2="310.10" y2="305.50"/></g>
<g stroke="#3a7c62" stroke-width="1" fill="none"><line x1="318.50" y1="289.50" x2="318.50" y2="297.50"/><line x1="315.90" y1="289.50" x2="321.10" y2="289.50"/><line x1="315.90" y1="297.50" x2="321.10" y2="297.50"/></g>
<g stroke="#416a94" stroke-width="1" fill="none"><line x1="329.50" y1="289.50" x2="329.50" y2="305.50"/><line x1="326.90" y1="289.50" x2="332.10" y2="289.50"/><line x1="326.90" y1="305.50" x2="332.10" y2="305.50"/></g>
<g stroke="#b84455" stroke-width="1" fill="none"><line x1="348.50" y1="289.50" x2="348.50" y2="314.50"/><line x1="345.90" y1="289.50" x2="351.10" y2="289.50"/><line x1="345.90" y1="314.50" x2="351.10" y2="314.50"/></g>
<g stroke="#c99a55" stroke-width="1" fill="none"><line x1="360.50" y1="305.50" x2="360.50" y2="330.50"/><line x1="357.90" y1="305.50" x2="363.10" y2="305.50"/><line x1="357.90" y1="330.50" x2="363.10" y2="330.50"/></g>
<g stroke="#3a7c62" stroke-width="1" fill="none"><line x1="371.50" y1="297.50" x2="371.50" y2="330.50"/><line x1="368.90" y1="297.50" x2="374.10" y2="297.50"/><line x1="368.90" y1="330.50" x2="374.10" y2="330.50"/></g>
<g stroke="#416a94" stroke-width="1" fill="none"><line x1="383.50" y1="297.50" x2="383.50" y2="330.50"/><line x1="380.90" y1="297.50" x2="386.10" y2="297.50"/><line x1="380.90" y1="330.50" x2="386.10" y2="330.50"/></g>
<rect x="240.00" y="311.59" width="5.00" height="5.00" fill="#c5102f"/>
<circle cx="253.50" cy="314.09" r="2.45" fill="#cc7f26" stroke="#b56e1c" stroke-width="0.6"/>
<path d="M262.80,324.95 L268.20,324.95 L265.50,320.35Z" fill="#1a6346"/>
<path d="M274.40,328.53 L278.60,328.53 L276.50,332.23Z" fill="#e2eaf3" stroke="#2b4d75" stroke-width="1.1" stroke-linejoin="miter"/>
<rect x="293.00" y="294.93" width="5.00" height="5.00" fill="#c5102f"/>
<circle cx="307.50" cy="297.43" r="2.45" fill="#cc7f26" stroke="#b56e1c" stroke-width="0.6"/>
<path d="M315.80,291.63 L321.20,291.63 L318.50,287.03Z" fill="#1a6346"/>
<path d="M327.40,286.88 L331.60,286.88 L329.50,290.58Z" fill="#e2eaf3" stroke="#2b4d75" stroke-width="1.1" stroke-linejoin="miter"/>
<rect x="346.00" y="294.93" width="5.00" height="5.00" fill="#c5102f"/>
<circle cx="360.50" cy="314.09" r="2.45" fill="#cc7f26" stroke="#b56e1c" stroke-width="0.6"/>
<path d="M368.80,316.62 L374.20,316.62 L371.50,312.02Z" fill="#1a6346"/>
<path d="M381.40,311.87 L385.60,311.87 L383.50,315.57Z" fill="#e2eaf3" stroke="#2b4d75" stroke-width="1.1" stroke-linejoin="miter"/>
<path d="M234.3,284.44 L234.3,359.91 L390.6,359.91" stroke="#333333" stroke-width="1.3" fill="none"/>
<line x1="231.20000000000002" y1="355.74" x2="234.3" y2="355.74" stroke="#333333" stroke-width="1"/>
<text x="227.30" y="357.84" font-size="6.6" text-anchor="end" font-weight="normal" fill="#222222" textLength="3.0" lengthAdjust="spacingAndGlyphs" stroke="#222222" stroke-width="0.08">1</text>
<line x1="231.20000000000002" y1="347.41" x2="234.3" y2="347.41" stroke="#333333" stroke-width="1"/>
<text x="227.30" y="349.51" font-size="6.6" text-anchor="end" font-weight="normal" fill="#222222" textLength="3.0" lengthAdjust="spacingAndGlyphs" stroke="#222222" stroke-width="0.08">2</text>
<line x1="231.20000000000002" y1="339.08" x2="234.3" y2="339.08" stroke="#333333" stroke-width="1"/>
<text x="227.30" y="341.18" font-size="6.6" text-anchor="end" font-weight="normal" fill="#222222" textLength="3.0" lengthAdjust="spacingAndGlyphs" stroke="#222222" stroke-width="0.08">3</text>
<line x1="231.20000000000002" y1="330.75" x2="234.3" y2="330.75" stroke="#333333" stroke-width="1"/>
<text x="227.30" y="332.85" font-size="6.6" text-anchor="end" font-weight="normal" fill="#222222" textLength="3.0" lengthAdjust="spacingAndGlyphs" stroke="#222222" stroke-width="0.08">4</text>
<line x1="231.20000000000002" y1="322.42" x2="234.3" y2="322.42" stroke="#333333" stroke-width="1"/>
<text x="227.30" y="324.52" font-size="6.6" text-anchor="end" font-weight="normal" fill="#222222" textLength="3.0" lengthAdjust="spacingAndGlyphs" stroke="#222222" stroke-width="0.08">5</text>
<line x1="231.20000000000002" y1="314.09" x2="234.3" y2="314.09" stroke="#333333" stroke-width="1"/>
<text x="227.30" y="316.19" font-size="6.6" text-anchor="end" font-weight="normal" fill="#222222" textLength="3.0" lengthAdjust="spacingAndGlyphs" stroke="#222222" stroke-width="0.08">6</text>
<line x1="231.20000000000002" y1="305.76" x2="234.3" y2="305.76" stroke="#333333" stroke-width="1"/>
<text x="227.30" y="307.86" font-size="6.6" text-anchor="end" font-weight="normal" fill="#222222" textLength="3.0" lengthAdjust="spacingAndGlyphs" stroke="#222222" stroke-width="0.08">7</text>
<line x1="231.20000000000002" y1="297.43" x2="234.3" y2="297.43" stroke="#333333" stroke-width="1"/>
<text x="227.30" y="299.53" font-size="6.6" text-anchor="end" font-weight="normal" fill="#222222" textLength="3.0" lengthAdjust="spacingAndGlyphs" stroke="#222222" stroke-width="0.08">8</text>
<line x1="231.20000000000002" y1="289.10" x2="234.3" y2="289.10" stroke="#333333" stroke-width="1"/>
<text x="227.30" y="291.20" font-size="6.6" text-anchor="end" font-weight="normal" fill="#222222" textLength="3.0" lengthAdjust="spacingAndGlyphs" stroke="#222222" stroke-width="0.08">9</text>
<line x1="259.45" y1="359.91" x2="259.45" y2="362.91" stroke="#333333" stroke-width="1"/>
<line x1="312.75" y1="359.91" x2="312.75" y2="362.91" stroke="#333333" stroke-width="1"/>
<line x1="366.15" y1="359.91" x2="366.15" y2="362.91" stroke="#333333" stroke-width="1"/>
<text x="218.50" y="322.42" font-size="7.4" text-anchor="middle" font-weight="normal" fill="#222222" textLength="73.3" lengthAdjust="spacingAndGlyphs" transform="rotate(-90 218.50 322.42)" stroke="#222" stroke-width="0.28">Appropriateness of therapy</text>
<rect x="44" y="390.53" width="156" height="24.99" fill="#e0eedd"/>
<rect x="44" y="440.51" width="156" height="24.99" fill="#f6d3cd"/>
<line x1="44" y1="390.53" x2="200" y2="390.53" stroke="#262626" stroke-width="1.45" stroke-dasharray="1.05 1.05"/>
<line x1="44" y1="415.52" x2="200" y2="415.52" stroke="#262626" stroke-width="1.45" stroke-dasharray="1.05 1.05"/>
<line x1="44" y1="440.51" x2="200" y2="440.51" stroke="#262626" stroke-width="1.45" stroke-dasharray="1.05 1.05"/>
<g stroke="#b84455" stroke-width="1" fill="none"><line x1="51.50" y1="394.50" x2="51.50" y2="419.50"/><line x1="48.90" y1="394.50" x2="54.10" y2="394.50"/><line x1="48.90" y1="419.50" x2="54.10" y2="419.50"/></g>
<g stroke="#c99a55" stroke-width="1" fill="none"><line x1="63.50" y1="394.50" x2="63.50" y2="428.50"/><line x1="60.90" y1="394.50" x2="66.10" y2="394.50"/><line x1="60.90" y1="428.50" x2="66.10" y2="428.50"/></g>
<g stroke="#3a7c62" stroke-width="1" fill="none"><line x1="74.50" y1="419.50" x2="74.50" y2="428.50"/><line x1="71.90" y1="419.50" x2="77.10" y2="419.50"/><line x1="71.90" y1="428.50" x2="77.10" y2="428.50"/></g>
<g stroke="#416a94" stroke-width="1" fill="none"><line x1="86.50" y1="419.50" x2="86.50" y2="453.50"/><line x1="83.90" y1="419.50" x2="89.10" y2="419.50"/><line x1="83.90" y1="453.50" x2="89.10" y2="453.50"/></g>
<g stroke="#b84455" stroke-width="1" fill="none"><line x1="104.50" y1="394.50" x2="104.50" y2="428.50"/><line x1="101.90" y1="394.50" x2="107.10" y2="394.50"/><line x1="101.90" y1="428.50" x2="107.10" y2="428.50"/></g>
<g stroke="#c99a55" stroke-width="1" fill="none"><line x1="116.50" y1="394.50" x2="116.50" y2="419.50"/><line x1="113.90" y1="394.50" x2="119.10" y2="394.50"/><line x1="113.90" y1="419.50" x2="119.10" y2="419.50"/></g>
<g stroke="#3a7c62" stroke-width="1" fill="none"><line x1="127.50" y1="394.50" x2="127.50" y2="403.50"/><line x1="124.90" y1="394.50" x2="130.10" y2="394.50"/><line x1="124.90" y1="403.50" x2="130.10" y2="403.50"/></g>
<g stroke="#416a94" stroke-width="1" fill="none"><line x1="139.50" y1="394.50" x2="139.50" y2="411.50"/><line x1="136.90" y1="394.50" x2="142.10" y2="394.50"/><line x1="136.90" y1="411.50" x2="142.10" y2="411.50"/></g>
<g stroke="#b84455" stroke-width="1" fill="none"><line x1="158.50" y1="394.50" x2="158.50" y2="411.50"/><line x1="155.90" y1="394.50" x2="161.10" y2="394.50"/><line x1="155.90" y1="411.50" x2="161.10" y2="411.50"/></g>
<g stroke="#c99a55" stroke-width="1" fill="none"><line x1="169.50" y1="403.50" x2="169.50" y2="436.50"/><line x1="166.90" y1="403.50" x2="172.10" y2="403.50"/><line x1="166.90" y1="436.50" x2="172.10" y2="436.50"/></g>
<g stroke="#3a7c62" stroke-width="1" fill="none"><line x1="181.50" y1="403.50" x2="181.50" y2="436.50"/><line x1="178.90" y1="403.50" x2="184.10" y2="403.50"/><line x1="178.90" y1="436.50" x2="184.10" y2="436.50"/></g>
<g stroke="#416a94" stroke-width="1" fill="none"><line x1="192.50" y1="403.50" x2="192.50" y2="436.50"/><line x1="189.90" y1="403.50" x2="195.10" y2="403.50"/><line x1="189.90" y1="436.50" x2="195.10" y2="436.50"/></g>
<rect x="49.00" y="408.86" width="5.00" height="5.00" fill="#c5102f"/>
<circle cx="63.50" cy="411.36" r="2.45" fill="#cc7f26" stroke="#b56e1c" stroke-width="0.6"/>
<path d="M71.80,430.55 L77.20,430.55 L74.50,425.95Z" fill="#1a6346"/>
<path d="M84.40,434.13 L88.60,434.13 L86.50,437.83Z" fill="#e2eaf3" stroke="#2b4d75" stroke-width="1.1" stroke-linejoin="miter"/>
<rect x="102.00" y="417.19" width="5.00" height="5.00" fill="#c5102f"/>
<circle cx="116.50" cy="403.03" r="2.45" fill="#cc7f26" stroke="#b56e1c" stroke-width="0.6"/>
<path d="M124.80,397.23 L130.20,397.23 L127.50,392.63Z" fill="#1a6346"/>
<path d="M137.40,392.48 L141.60,392.48 L139.50,396.18Z" fill="#e2eaf3" stroke="#2b4d75" stroke-width="1.1" stroke-linejoin="miter"/>
<rect x="156.00" y="400.53" width="5.00" height="5.00" fill="#c5102f"/>
<circle cx="169.50" cy="419.69" r="2.45" fill="#cc7f26" stroke="#b56e1c" stroke-width="0.6"/>
<path d="M178.80,422.22 L184.20,422.22 L181.50,417.62Z" fill="#1a6346"/>
<path d="M190.40,409.14 L194.60,409.14 L192.50,412.84Z" fill="#e2eaf3" stroke="#2b4d75" stroke-width="1.1" stroke-linejoin="miter"/>
<path d="M44,390.03 L44,465.50 L200,465.50" stroke="#333333" stroke-width="1.3" fill="none"/>
<line x1="40.9" y1="461.34" x2="44" y2="461.34" stroke="#333333" stroke-width="1"/>
<text x="37.00" y="463.44" font-size="6.6" text-anchor="end" font-weight="normal" fill="#222222" textLength="3.0" lengthAdjust="spacingAndGlyphs" stroke="#222222" stroke-width="0.08">1</text>
<line x1="40.9" y1="453.01" x2="44" y2="453.01" stroke="#333333" stroke-width="1"/>
<text x="37.00" y="455.11" font-size="6.6" text-anchor="end" font-weight="normal" fill="#222222" textLength="3.0" lengthAdjust="spacingAndGlyphs" stroke="#222222" stroke-width="0.08">2</text>
<line x1="40.9" y1="444.68" x2="44" y2="444.68" stroke="#333333" stroke-width="1"/>
<text x="37.00" y="446.78" font-size="6.6" text-anchor="end" font-weight="normal" fill="#222222" textLength="3.0" lengthAdjust="spacingAndGlyphs" stroke="#222222" stroke-width="0.08">3</text>
<line x1="40.9" y1="436.35" x2="44" y2="436.35" stroke="#333333" stroke-width="1"/>
<text x="37.00" y="438.45" font-size="6.6" text-anchor="end" font-weight="normal" fill="#222222" textLength="3.0" lengthAdjust="spacingAndGlyphs" stroke="#222222" stroke-width="0.08">4</text>
<line x1="40.9" y1="428.02" x2="44" y2="428.02" stroke="#333333" stroke-width="1"/>
<text x="37.00" y="430.12" font-size="6.6" text-anchor="end" font-weight="normal" fill="#222222" textLength="3.0" lengthAdjust="spacingAndGlyphs" stroke="#222222" stroke-width="0.08">5</text>
<line x1="40.9" y1="419.69" x2="44" y2="419.69" stroke="#333333" stroke-width="1"/>
<text x="37.00" y="421.79" font-size="6.6" text-anchor="end" font-weight="normal" fill="#222222" textLength="3.0" lengthAdjust="spacingAndGlyphs" stroke="#222222" stroke-width="0.08">6</text>
<line x1="40.9" y1="411.36" x2="44" y2="411.36" stroke="#333333" stroke-width="1"/>
<text x="37.00" y="413.46" font-size="6.6" text-anchor="end" font-weight="normal" fill="#222222" textLength="3.0" lengthAdjust="spacingAndGlyphs" stroke="#222222" stroke-width="0.08">7</text>
<line x1="40.9" y1="403.03" x2="44" y2="403.03" stroke="#333333" stroke-width="1"/>
<text x="37.00" y="405.13" font-size="6.6" text-anchor="end" font-weight="normal" fill="#222222" textLength="3.0" lengthAdjust="spacingAndGlyphs" stroke="#222222" stroke-width="0.08">8</text>
<line x1="40.9" y1="394.70" x2="44" y2="394.70" stroke="#333333" stroke-width="1"/>
<text x="37.00" y="396.80" font-size="6.6" text-anchor="end" font-weight="normal" fill="#222222" textLength="3.0" lengthAdjust="spacingAndGlyphs" stroke="#222222" stroke-width="0.08">9</text>
<line x1="68.85" y1="465.50" x2="68.85" y2="468.50" stroke="#333333" stroke-width="1"/>
<line x1="122.15" y1="465.50" x2="122.15" y2="468.50" stroke="#333333" stroke-width="1"/>
<line x1="175.55" y1="465.50" x2="175.55" y2="468.50" stroke="#333333" stroke-width="1"/>
<text x="28.30" y="428.02" font-size="7.4" text-anchor="middle" font-weight="normal" fill="#222222" textLength="73.3" lengthAdjust="spacingAndGlyphs" transform="rotate(-90 28.30 428.02)" stroke="#222" stroke-width="0.28">Appropriateness of therapy</text>
<rect x="234.3" y="390.53" width="156.89999999999998" height="24.99" fill="#e0eedd"/>
<rect x="234.3" y="440.51" width="156.89999999999998" height="24.99" fill="#f6d3cd"/>
<line x1="234.3" y1="390.53" x2="391.2" y2="390.53" stroke="#262626" stroke-width="1.45" stroke-dasharray="1.05 1.05"/>
<line x1="234.3" y1="415.52" x2="391.2" y2="415.52" stroke="#262626" stroke-width="1.45" stroke-dasharray="1.05 1.05"/>
<line x1="234.3" y1="440.51" x2="391.2" y2="440.51" stroke="#262626" stroke-width="1.45" stroke-dasharray="1.05 1.05"/>
<g stroke="#b84455" stroke-width="1" fill="none"><line x1="246.50" y1="394.50" x2="246.50" y2="419.50"/><line x1="243.90" y1="394.50" x2="249.10" y2="394.50"/><line x1="243.90" y1="419.50" x2="249.10" y2="419.50"/></g>
<g stroke="#c99a55" stroke-width="1" fill="none"><line x1="263.50" y1="394.50" x2="263.50" y2="403.50"/><line x1="260.90" y1="394.50" x2="266.10" y2="394.50"/><line x1="260.90" y1="403.50" x2="266.10" y2="403.50"/></g>
<g stroke="#416a94" stroke-width="1" fill="none"><line x1="298.50" y1="394.50" x2="298.50" y2="403.50"/><line x1="295.90" y1="394.50" x2="301.10" y2="394.50"/><line x1="295.90" y1="403.50" x2="301.10" y2="403.50"/></g>
<g stroke="#b84455" stroke-width="1" fill="none"><line x1="327.50" y1="394.50" x2="327.50" y2="403.50"/><line x1="324.90" y1="394.50" x2="330.10" y2="394.50"/><line x1="324.90" y1="403.50" x2="330.10" y2="403.50"/></g>
<g stroke="#c99a55" stroke-width="1" fill="none"><line x1="344.50" y1="394.50" x2="344.50" y2="428.50"/><line x1="341.90" y1="394.50" x2="347.10" y2="394.50"/><line x1="341.90" y1="428.50" x2="347.10" y2="428.50"/></g>
<g stroke="#3a7c62" stroke-width="1" fill="none"><line x1="362.50" y1="403.50" x2="362.50" y2="428.50"/><line x1="359.90" y1="403.50" x2="365.10" y2="403.50"/><line x1="359.90" y1="428.50" x2="365.10" y2="428.50"/></g>
<g stroke="#416a94" stroke-width="1" fill="none"><line x1="379.50" y1="403.50" x2="379.50" y2="428.50"/><line x1="376.90" y1="403.50" x2="382.10" y2="403.50"/><line x1="376.90" y1="428.50" x2="382.10" y2="428.50"/></g>
<rect x="244.00" y="408.86" width="5.00" height="5.00" fill="#c5102f"/>
<circle cx="263.50" cy="394.70" r="2.45" fill="#cc7f26" stroke="#b56e1c" stroke-width="0.6"/>
<path d="M278.80,397.23 L284.20,397.23 L281.50,392.63Z" fill="#1a6346"/>
<path d="M296.40,392.48 L300.60,392.48 L298.50,396.18Z" fill="#e2eaf3" stroke="#2b4d75" stroke-width="1.1" stroke-linejoin="miter"/>
<rect x="325.00" y="392.20" width="5.00" height="5.00" fill="#c5102f"/>
<circle cx="344.50" cy="411.36" r="2.45" fill="#cc7f26" stroke="#b56e1c" stroke-width="0.6"/>
<path d="M359.80,413.89 L365.20,413.89 L362.50,409.29Z" fill="#1a6346"/>
<path d="M377.40,409.14 L381.60,409.14 L379.50,412.84Z" fill="#e2eaf3" stroke="#2b4d75" stroke-width="1.1" stroke-linejoin="miter"/>
<path d="M234.3,390.03 L234.3,465.50 L391.2,465.50" stroke="#333333" stroke-width="1.3" fill="none"/>
<line x1="231.20000000000002" y1="461.34" x2="234.3" y2="461.34" stroke="#333333" stroke-width="1"/>
<text x="227.30" y="463.44" font-size="6.6" text-anchor="end" font-weight="normal" fill="#222222" textLength="3.0" lengthAdjust="spacingAndGlyphs" stroke="#222222" stroke-width="0.08">1</text>
<line x1="231.20000000000002" y1="453.01" x2="234.3" y2="453.01" stroke="#333333" stroke-width="1"/>
<text x="227.30" y="455.11" font-size="6.6" text-anchor="end" font-weight="normal" fill="#222222" textLength="3.0" lengthAdjust="spacingAndGlyphs" stroke="#222222" stroke-width="0.08">2</text>
<line x1="231.20000000000002" y1="444.68" x2="234.3" y2="444.68" stroke="#333333" stroke-width="1"/>
<text x="227.30" y="446.78" font-size="6.6" text-anchor="end" font-weight="normal" fill="#222222" textLength="3.0" lengthAdjust="spacingAndGlyphs" stroke="#222222" stroke-width="0.08">3</text>
<line x1="231.20000000000002" y1="436.35" x2="234.3" y2="436.35" stroke="#333333" stroke-width="1"/>
<text x="227.30" y="438.45" font-size="6.6" text-anchor="end" font-weight="normal" fill="#222222" textLength="3.0" lengthAdjust="spacingAndGlyphs" stroke="#222222" stroke-width="0.08">4</text>
<line x1="231.20000000000002" y1="428.02" x2="234.3" y2="428.02" stroke="#333333" stroke-width="1"/>
<text x="227.30" y="430.12" font-size="6.6" text-anchor="end" font-weight="normal" fill="#222222" textLength="3.0" lengthAdjust="spacingAndGlyphs" stroke="#222222" stroke-width="0.08">5</text>
<line x1="231.20000000000002" y1="419.69" x2="234.3" y2="419.69" stroke="#333333" stroke-width="1"/>
<text x="227.30" y="421.79" font-size="6.6" text-anchor="end" font-weight="normal" fill="#222222" textLength="3.0" lengthAdjust="spacingAndGlyphs" stroke="#222222" stroke-width="0.08">6</text>
<line x1="231.20000000000002" y1="411.36" x2="234.3" y2="411.36" stroke="#333333" stroke-width="1"/>
<text x="227.30" y="413.46" font-size="6.6" text-anchor="end" font-weight="normal" fill="#222222" textLength="3.0" lengthAdjust="spacingAndGlyphs" stroke="#222222" stroke-width="0.08">7</text>
<line x1="231.20000000000002" y1="403.03" x2="234.3" y2="403.03" stroke="#333333" stroke-width="1"/>
<text x="227.30" y="405.13" font-size="6.6" text-anchor="end" font-weight="normal" fill="#222222" textLength="3.0" lengthAdjust="spacingAndGlyphs" stroke="#222222" stroke-width="0.08">8</text>
<line x1="231.20000000000002" y1="394.70" x2="234.3" y2="394.70" stroke="#333333" stroke-width="1"/>
<text x="227.30" y="396.80" font-size="6.6" text-anchor="end" font-weight="normal" fill="#222222" textLength="3.0" lengthAdjust="spacingAndGlyphs" stroke="#222222" stroke-width="0.08">9</text>
<line x1="272.50" y1="465.50" x2="272.50" y2="468.50" stroke="#333333" stroke-width="1"/>
<line x1="353.60" y1="465.50" x2="353.60" y2="468.50" stroke="#333333" stroke-width="1"/>
<text x="218.50" y="428.02" font-size="7.4" text-anchor="middle" font-weight="normal" fill="#222222" textLength="73.3" lengthAdjust="spacingAndGlyphs" transform="rotate(-90 218.50 428.02)" stroke="#222" stroke-width="0.28">Appropriateness of therapy</text>
<text x="44.00" y="280.00" font-size="6.56" text-anchor="start" font-weight="normal" fill="#222222" stroke="#222222" stroke-width="0.08">If best available donor– MRD</text>
<text x="234.80" y="280.00" font-size="6.56" text-anchor="start" font-weight="normal" fill="#222222" stroke="#222222" stroke-width="0.08">If best available donor– MMUD or haplo</text>
<text x="44.00" y="385.50" font-size="6.56" text-anchor="start" font-weight="normal" fill="#222222" stroke="#222222" stroke-width="0.08">If best available donor– MUD</text>
<text x="234.80" y="385.50" font-size="6.56" text-anchor="start" font-weight="normal" fill="#222222" stroke="#222222" stroke-width="0.08">If no donor available</text>
<text x="68.55" y="372.30" font-size="6.56" text-anchor="middle" font-weight="normal" fill="#222222" stroke="#222222" stroke-width="0.08">HSCT</text>
<text x="121.85" y="372.30" font-size="6.56" text-anchor="middle" font-weight="normal" fill="#222222" stroke="#222222" stroke-width="0.08">triple IST</text>
<text x="175.25" y="372.30" font-size="6.56" text-anchor="middle" font-weight="normal" fill="#222222" stroke="#222222" stroke-width="0.08">IST without TPO-RA</text>
<text x="259.45" y="372.30" font-size="6.56" text-anchor="middle" font-weight="normal" fill="#222222" stroke="#222222" stroke-width="0.08">HSCT</text>
<text x="312.75" y="372.30" font-size="6.56" text-anchor="middle" font-weight="normal" fill="#222222" stroke="#222222" stroke-width="0.08">triple IST</text>
<text x="366.15" y="372.30" font-size="6.56" text-anchor="middle" font-weight="normal" fill="#222222" stroke="#222222" stroke-width="0.08">IST without TPO-RA</text>
<text x="68.85" y="477.80" font-size="6.56" text-anchor="middle" font-weight="normal" fill="#222222" stroke="#222222" stroke-width="0.08">HSCT</text>
<text x="122.15" y="477.80" font-size="6.56" text-anchor="middle" font-weight="normal" fill="#222222" stroke="#222222" stroke-width="0.08">triple IST</text>
<text x="175.55" y="477.80" font-size="6.56" text-anchor="middle" font-weight="normal" fill="#222222" stroke="#222222" stroke-width="0.08">IST without TPO-RA</text>
<text x="272.50" y="477.80" font-size="6.56" text-anchor="middle" font-weight="normal" fill="#222222" stroke="#222222" stroke-width="0.08">triple IST</text>
<text x="353.60" y="477.80" font-size="6.56" text-anchor="middle" font-weight="normal" fill="#222222" stroke="#222222" stroke-width="0.08">IST without TPO-RA</text>
<text x="207.90" y="491.90" font-size="6.56" text-anchor="middle" font-weight="normal" fill="#222222" stroke="#222222" stroke-width="0.08">Patient Age</text>
<rect x="111.90" y="497.80" width="5.00" height="5.00" fill="#c5102f"/>
<text x="120.20" y="502.60" font-size="6.56" text-anchor="start" font-weight="normal" fill="#222222" stroke="#222222" stroke-width="0.08">0-20 years</text>
<circle cx="160.00" cy="500.30" r="2.45" fill="#cc7f26" stroke="#b56e1c" stroke-width="0.6"/>
<text x="165.40" y="502.60" font-size="6.56" text-anchor="start" font-weight="normal" fill="#222222" stroke="#222222" stroke-width="0.08">21-40 years</text>
<path d="M206.58,503.13 L212.62,503.13 L209.60,497.98Z" fill="#1a6346"/>
<text x="214.60" y="502.60" font-size="6.56" text-anchor="start" font-weight="normal" fill="#222222" stroke="#222222" stroke-width="0.08">41-60 years</text>
<path d="M257.15,497.81 L261.85,497.81 L259.50,501.96Z" fill="#e2eaf3" stroke="#2b4d75" stroke-width="1.1" stroke-linejoin="miter"/>
<text x="265.00" y="502.60" font-size="6.56" text-anchor="start" font-weight="normal" fill="#222222" stroke="#222222" stroke-width="0.08">over 60 years</text>
<text x="411.60" y="259.90" font-size="12.3" text-anchor="start" font-weight="bold" fill="#111" stroke="#111" stroke-width="0.3">C</text>
<text x="473.80" y="257.70" font-size="8.5" text-anchor="middle" font-weight="normal" fill="#222222" stroke="#222222" stroke-width="0.12">Initial Therapy for</text>
<text x="473.80" y="267.70" font-size="8.5" text-anchor="middle" font-weight="normal" fill="#222222" stroke="#222222" stroke-width="0.12">Medically Unfit</text>
<rect x="434.4" y="276.36" width="79.0" height="27.84" fill="#e0eedd"/>
<rect x="434.4" y="332.04" width="79.0" height="27.84" fill="#f6d3cd"/>
<line x1="434.4" y1="276.36" x2="513.4" y2="276.36" stroke="#262626" stroke-width="1.45" stroke-dasharray="1.05 1.05"/>
<line x1="434.4" y1="304.20" x2="513.4" y2="304.20" stroke="#262626" stroke-width="1.45" stroke-dasharray="1.05 1.05"/>
<line x1="434.4" y1="332.04" x2="513.4" y2="332.04" stroke="#262626" stroke-width="1.45" stroke-dasharray="1.05 1.05"/>
<g stroke="#7d6446" stroke-width="1" fill="none"><line x1="446.50" y1="290.50" x2="446.50" y2="308.50"/><line x1="443.90" y1="290.50" x2="449.10" y2="290.50"/><line x1="443.90" y1="308.50" x2="449.10" y2="308.50"/></g>
<g stroke="#7d6446" stroke-width="1" fill="none"><line x1="464.50" y1="299.50" x2="464.50" y2="345.50"/><line x1="461.90" y1="299.50" x2="467.10" y2="299.50"/><line x1="461.90" y1="345.50" x2="467.10" y2="345.50"/></g>
<g stroke="#7d6446" stroke-width="1" fill="none"><line x1="482.50" y1="281.50" x2="482.50" y2="308.50"/><line x1="479.90" y1="281.50" x2="485.10" y2="281.50"/><line x1="479.90" y1="308.50" x2="485.10" y2="308.50"/></g>
<g stroke="#7d6446" stroke-width="1" fill="none"><line x1="500.50" y1="290.50" x2="500.50" y2="327.50"/><line x1="497.90" y1="290.50" x2="503.10" y2="290.50"/><line x1="497.90" y1="327.50" x2="503.10" y2="327.50"/></g>
<path d="M446.50,296.66 L449.40,299.56 L446.50,302.46 L443.60,299.56Z" fill="#4b3320"/>
<path d="M464.50,315.22 L467.40,318.12 L464.50,321.02 L461.60,318.12Z" fill="#4b3320"/>
<path d="M482.50,296.66 L485.40,299.56 L482.50,302.46 L479.60,299.56Z" fill="#4b3320"/>
<path d="M500.50,305.94 L503.40,308.84 L500.50,311.74 L497.60,308.84Z" fill="#4b3320"/>
<path d="M434.4,275.86 L434.4,359.88 L513.4,359.88" stroke="#333333" stroke-width="1.3" fill="none"/>
<line x1="431.29999999999995" y1="355.24" x2="434.4" y2="355.24" stroke="#333333" stroke-width="1"/>
<text x="427.40" y="357.34" font-size="6.6" text-anchor="end" font-weight="normal" fill="#222222" textLength="3.0" lengthAdjust="spacingAndGlyphs" stroke="#222222" stroke-width="0.08">1</text>
<line x1="431.29999999999995" y1="345.96" x2="434.4" y2="345.96" stroke="#333333" stroke-width="1"/>
<text x="427.40" y="348.06" font-size="6.6" text-anchor="end" font-weight="normal" fill="#222222" textLength="3.0" lengthAdjust="spacingAndGlyphs" stroke="#222222" stroke-width="0.08">2</text>
<line x1="431.29999999999995" y1="336.68" x2="434.4" y2="336.68" stroke="#333333" stroke-width="1"/>
<text x="427.40" y="338.78" font-size="6.6" text-anchor="end" font-weight="normal" fill="#222222" textLength="3.0" lengthAdjust="spacingAndGlyphs" stroke="#222222" stroke-width="0.08">3</text>
<line x1="431.29999999999995" y1="327.40" x2="434.4" y2="327.40" stroke="#333333" stroke-width="1"/>
<text x="427.40" y="329.50" font-size="6.6" text-anchor="end" font-weight="normal" fill="#222222" textLength="3.0" lengthAdjust="spacingAndGlyphs" stroke="#222222" stroke-width="0.08">4</text>
<line x1="431.29999999999995" y1="318.12" x2="434.4" y2="318.12" stroke="#333333" stroke-width="1"/>
<text x="427.40" y="320.22" font-size="6.6" text-anchor="end" font-weight="normal" fill="#222222" textLength="3.0" lengthAdjust="spacingAndGlyphs" stroke="#222222" stroke-width="0.08">5</text>
<line x1="431.29999999999995" y1="308.84" x2="434.4" y2="308.84" stroke="#333333" stroke-width="1"/>
<text x="427.40" y="310.94" font-size="6.6" text-anchor="end" font-weight="normal" fill="#222222" textLength="3.0" lengthAdjust="spacingAndGlyphs" stroke="#222222" stroke-width="0.08">6</text>
<line x1="431.29999999999995" y1="299.56" x2="434.4" y2="299.56" stroke="#333333" stroke-width="1"/>
<text x="427.40" y="301.66" font-size="6.6" text-anchor="end" font-weight="normal" fill="#222222" textLength="3.0" lengthAdjust="spacingAndGlyphs" stroke="#222222" stroke-width="0.08">7</text>
<line x1="431.29999999999995" y1="290.28" x2="434.4" y2="290.28" stroke="#333333" stroke-width="1"/>
<text x="427.40" y="292.38" font-size="6.6" text-anchor="end" font-weight="normal" fill="#222222" textLength="3.0" lengthAdjust="spacingAndGlyphs" stroke="#222222" stroke-width="0.08">8</text>
<line x1="431.29999999999995" y1="281.00" x2="434.4" y2="281.00" stroke="#333333" stroke-width="1"/>
<text x="427.40" y="283.10" font-size="6.6" text-anchor="end" font-weight="normal" fill="#222222" textLength="3.0" lengthAdjust="spacingAndGlyphs" stroke="#222222" stroke-width="0.08">9</text>
<line x1="446.80" y1="359.88" x2="446.80" y2="362.88" stroke="#333333" stroke-width="1"/>
<line x1="464.70" y1="359.88" x2="464.70" y2="362.88" stroke="#333333" stroke-width="1"/>
<line x1="482.80" y1="359.88" x2="482.80" y2="362.88" stroke="#333333" stroke-width="1"/>
<line x1="500.80" y1="359.88" x2="500.80" y2="362.88" stroke="#333333" stroke-width="1"/>
<text x="418.50" y="318.12" font-size="7.4" text-anchor="middle" font-weight="normal" fill="#222222" textLength="73.3" lengthAdjust="spacingAndGlyphs" transform="rotate(-90 418.50 318.12)" stroke="#222" stroke-width="0.28">Appropriateness of therapy</text>
<text x="450.00" y="369.60" font-size="6.42" text-anchor="end" font-weight="normal" fill="#222222" transform="rotate(-45 450.00 369.60)" stroke="#222222" stroke-width="0.08">triple IST</text>
<text x="467.90" y="369.60" font-size="6.42" text-anchor="end" font-weight="normal" fill="#222222" transform="rotate(-45 467.90 369.60)" stroke="#222222" stroke-width="0.08">IST without TPO-RA</text>
<text x="486.00" y="369.60" font-size="6.42" text-anchor="end" font-weight="normal" fill="#222222" transform="rotate(-45 486.00 369.60)" stroke="#222222" stroke-width="0.08">CSA+epag</text>
<text x="504.00" y="369.60" font-size="6.42" text-anchor="end" font-weight="normal" fill="#222222" transform="rotate(-45 504.00 369.60)" stroke="#222222" stroke-width="0.08">CSA</text>
<path d="M451.10,419.55 L453.86,422.30 L451.10,425.06 L448.35,422.30Z" fill="#4b3320"/>
<text x="456.70" y="421.40" font-size="6.56" text-anchor="start" font-weight="normal" fill="#222222" stroke="#222222" stroke-width="0.08">Medically Unfit</text>
<text x="456.70" y="429.20" font-size="6.56" text-anchor="start" font-weight="normal" fill="#222222" stroke="#222222" stroke-width="0.08">(any age)</text>
<g fill="#555"><rect x="0" y="0" width="520" height="1.1"/><rect x="0" y="0" width="1.1" height="511"/><rect x="518.8" y="0" width="1.2" height="511"/><rect x="0" y="509.7" width="520" height="1.3"/></g>
</svg>
</body></html>
